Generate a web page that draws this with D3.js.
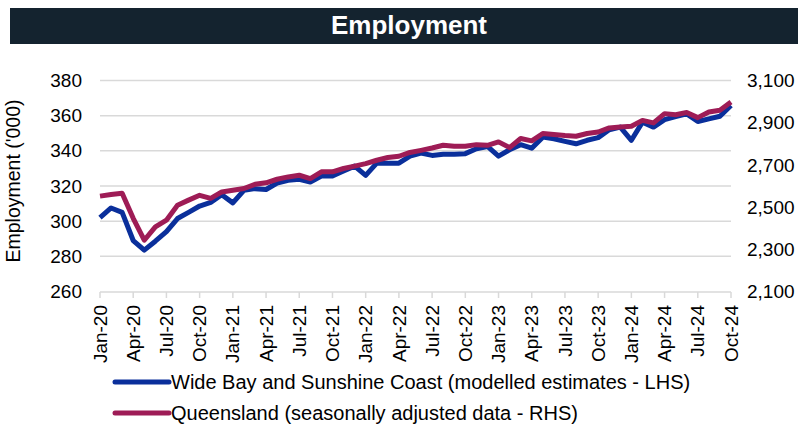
<!DOCTYPE html>
<html>
<head>
<meta charset="utf-8">
<script src="https://cdn.jsdelivr.net/npm/d3@7"></script>
<style>
  body { margin: 0; background: #fff; }
  text { font-family: Arial, "Liberation Sans", sans-serif; fill: #000; }
</style>
</head>
<body>
<div id="chart"></div>
<script>
// Monthly categories Jan-20 .. Oct-24
const months = d3.timeMonths(new Date(2020, 0, 1), new Date(2024, 10, 1));
const fmt = d3.timeFormat("%b-%y");

// Wide Bay and Sunshine Coast ('000, LHS)
const wideBay = [
  302, 307.5, 305, 289, 283.5, 288.6, 294, 301.5, 305, 308.6, 310.7, 315,
  310.4, 317.5, 318.5, 318, 321.7, 323.2, 323.8, 322.3, 325.7, 325.7, 328.5, 331.3,
  326, 333, 333, 333, 337, 338.7, 337.4, 338, 338, 338.4, 341.2, 342.5,
  337, 340.6, 343.5, 341.5, 347.8, 346.9, 345.4, 344, 346, 347.5, 352, 353.5,
  346, 356.3, 353.5, 357.7, 359.5, 361, 356.7, 358.2, 359.7, 365.8
];

// Queensland ('000, RHS)
const queensland = [
  2552, 2560, 2566, 2447, 2343, 2406, 2438, 2509, 2533, 2556, 2541, 2572,
  2580, 2588, 2608, 2615, 2632, 2643, 2651, 2635, 2667, 2667, 2683, 2694,
  2706, 2722, 2735, 2741, 2759, 2769, 2780, 2793, 2788, 2788, 2796, 2793,
  2809, 2782, 2825, 2814, 2849, 2844, 2839, 2836, 2849, 2856, 2875, 2880,
  2883, 2911, 2899, 2943, 2938, 2948, 2924, 2951, 2959, 2998
];

const leftTicks = [260, 280, 300, 320, 340, 360, 380];
const rightTicks = [2100, 2300, 2500, 2700, 2900, 3100];

const width = 798, height = 432;
const svg = d3.select("#chart").append("svg")
  .attr("width", width)
  .attr("height", height);

// title bar
svg.append("rect")
  .attr("x", 10).attr("y", 8)
  .attr("width", 788).attr("height", 36)
  .attr("fill", "#14232f");
svg.append("text")
  .attr("x", 409).attr("y", 34)
  .attr("text-anchor", "middle")
  .style("font-size", "26px")
  .style("font-weight", "bold")
  .style("fill", "#fff")
  .text("Employment");

const x = d3.scalePoint().domain(d3.range(months.length)).range([100, 731]);
const yL = d3.scaleLinear().domain([260, 380]).range([291.5, 80.5]);
const yR = d3.scaleLinear().domain([2100, 3100]).range([291.5, 80.5]);

// gridlines
svg.append("g")
  .selectAll("line")
  .data(leftTicks.slice(1))
  .join("line")
  .attr("x1", 100).attr("x2", 731)
  .attr("y1", d => yL(d)).attr("y2", d => yL(d))
  .attr("stroke", "#d9d9d9")
  .attr("stroke-width", 1.5);

// left axis labels
svg.append("g")
  .selectAll("text")
  .data(leftTicks)
  .join("text")
  .attr("x", 82)
  .attr("y", d => yL(d))
  .attr("dy", "0.35em")
  .attr("text-anchor", "end")
  .style("font-size", "19px")
  .text(d => d);

// right axis labels
svg.append("g")
  .selectAll("text")
  .data(rightTicks)
  .join("text")
  .attr("x", 747)
  .attr("y", d => yR(d))
  .attr("dy", "0.35em")
  .style("font-size", "19px")
  .text(d => d3.format(",")(d));

// y axis title
svg.append("text")
  .attr("transform", "translate(20,181) rotate(-90)")
  .attr("text-anchor", "middle")
  .style("font-size", "19.5px")
  .text("Employment ('000)");

// x axis
const xTickIdx = d3.range(0, months.length, 3);
const xAxis = svg.append("g");
xAxis.append("line")
  .attr("x1", 100).attr("x2", 731)
  .attr("y1", 292).attr("y2", 292)
  .attr("stroke", "#d9d9d9")
  .attr("stroke-width", 1.5);
xAxis.selectAll("line.tick")
  .data(xTickIdx)
  .join("line")
  .attr("class", "tick")
  .attr("x1", d => x(d)).attr("x2", d => x(d))
  .attr("y1", 292).attr("y2", 298)
  .attr("stroke", "#d9d9d9")
  .attr("stroke-width", 1.5);
xAxis.selectAll("text")
  .data(xTickIdx)
  .join("text")
  .attr("transform", d => `translate(${x(d)},305) rotate(-90)`)
  .attr("dy", "0.35em")
  .attr("text-anchor", "end")
  .style("font-size", "19px")
  .text(d => fmt(months[d]));

// lines
const lineL = d3.line().x((d, i) => x(i)).y(d => yL(d));
const lineR = d3.line().x((d, i) => x(i)).y(d => yR(d));

svg.append("path")
  .datum(wideBay)
  .attr("d", lineL)
  .attr("fill", "none")
  .attr("stroke", "#0a2f9b")
  .attr("stroke-width", 5)
  .attr("stroke-linejoin", "round");

svg.append("path")
  .datum(queensland)
  .attr("d", lineR)
  .attr("fill", "none")
  .attr("stroke", "#9e1c56")
  .attr("stroke-width", 5)
  .attr("stroke-linejoin", "round");

// legend
const legend = [
  { name: "Wide Bay and Sunshine Coast (modelled estimates - LHS)", color: "#0a2f9b", y: 382 },
  { name: "Queensland (seasonally adjusted data - RHS)", color: "#9e1c56", y: 413 }
];
const lg = svg.append("g").selectAll("g").data(legend).join("g");
lg.append("line")
  .attr("x1", 115).attr("x2", 169)
  .attr("y1", d => d.y).attr("y2", d => d.y)
  .attr("stroke", d => d.color)
  .attr("stroke-width", 5)
  .attr("stroke-linecap", "round");
lg.append("text")
  .attr("x", 171)
  .attr("y", d => d.y)
  .attr("dy", "0.35em")
  .style("font-size", "20px")
  .text(d => d.name);
</script>
</body>
</html>
